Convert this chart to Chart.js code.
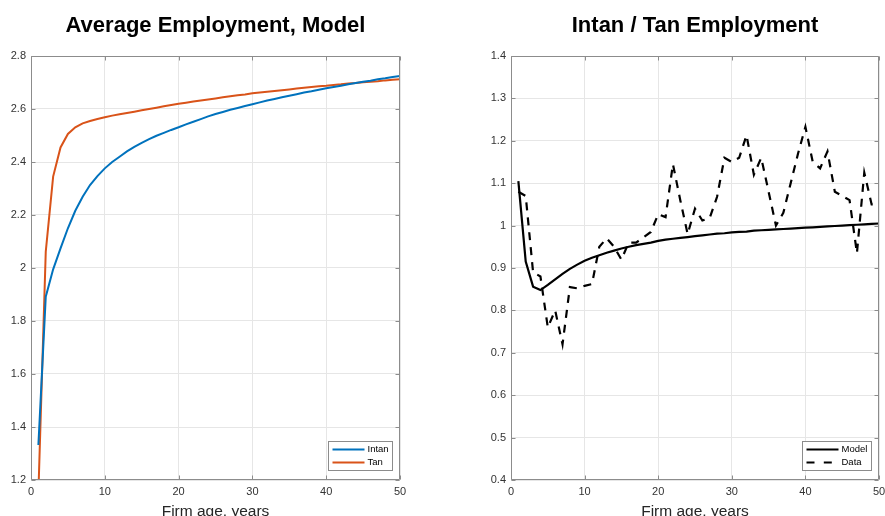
<!DOCTYPE html>
<html>
<head>
<meta charset="utf-8">
<script src="https://cdn.jsdelivr.net/npm/chart.js@4/dist/chart.umd.min.js"></script>
<style>
  html, body { margin: 0; padding: 0; background: #fff; overflow: hidden; width: 885px; height: 516px; }
  canvas { position: absolute; top: 0; }
  #left { left: 0; width: 442px; height: 516px; }
  #right { left: 442px; width: 460px; height: 516px; }
</style>
</head>
<body>
<canvas id="left" width="442" height="516"></canvas>
<canvas id="right" width="460" height="516"></canvas>
<script>
// Firm age in years
const ages = [1,2,3,4,5,6,7,8,9,10,11,12,13,14,15,16,17,18,19,20,21,22,23,24,25,
              26,27,28,29,30,31,32,33,34,35,36,37,38,39,40,41,42,43,44,45,46,47,48,49,50];

// Average employment by age, model
const intanEmp = [1.332,1.892,1.995,2.074,2.150,2.216,2.269,2.313,2.347,2.376,
                  2.400,2.420,2.440,2.457,2.472,2.486,2.499,2.510,2.521,2.531,
                  2.542,2.552,2.562,2.572,2.581,2.589,2.597,2.604,2.611,2.618,
                  2.625,2.632,2.638,2.644,2.650,2.656,2.662,2.667,2.673,2.678,
                  2.683,2.688,2.693,2.698,2.703,2.707,2.712,2.716,2.721,2.725];
const tanEmp   = [1.150,2.062,2.345,2.455,2.506,2.531,2.546,2.555,2.562,2.569,
                  2.575,2.580,2.585,2.590,2.595,2.600,2.605,2.610,2.615,2.620,
                  2.624,2.628,2.632,2.636,2.640,2.644,2.648,2.652,2.655,2.659,
                  2.662,2.665,2.668,2.671,2.674,2.677,2.680,2.683,2.686,2.688,
                  2.691,2.693,2.696,2.698,2.701,2.703,2.705,2.708,2.710,2.712];

// Intangible / tangible employment ratio
const ratioModel = [1.105,0.915,0.856,0.848,0.860,0.873,0.886,0.898,0.908,0.917,
                    0.924,0.930,0.936,0.941,0.946,0.950,0.954,0.957,0.960,0.964,
                    0.967,0.969,0.971,0.973,0.975,0.977,0.979,0.981,0.982,0.984,
                    0.985,0.986,0.988,0.989,0.990,0.991,0.992,0.993,0.994,0.995,
                    0.996,0.997,0.998,0.999,1.000,1.001,1.002,1.003,1.004,1.005];
const ratioData  = [1.080,1.070,0.890,0.880,0.760,0.800,0.720,0.855,0.852,0.858,
                    0.862,0.950,0.970,0.950,0.920,0.960,0.960,0.972,0.985,1.027,
                    1.020,1.145,1.060,0.980,1.040,1.012,1.018,1.068,1.160,1.150,
                    1.160,1.213,1.120,1.160,1.080,1.000,1.030,1.100,1.170,1.233,
                    1.150,1.135,1.175,1.080,1.070,1.060,0.935,1.125,1.050,1.050];

// Tick values
const ageTicks   = [0,10,20,30,40,50];
const empTicks   = [1.2,1.4,1.6,1.8,2,2.2,2.4,2.6,2.8];
const ratioTicks = [0.4,0.5,0.6,0.7,0.8,0.9,1,1.1,1.2,1.3,1.4];

const FONT = "'Liberation Sans', Arial, Helvetica, sans-serif";
const FRAME = '#8c8c8c';
const GRID = '#e6e6e6';
const TICKTXT = '#333333';

const pts = (vals) => ages.map((a, i) => ({ x: a, y: vals[i] }));

// Axes box, inward tick marks and in-plot legend
const boxPlugin = {
  id: 'boxAndLegend',
  afterDatasetsDraw(chart) {
    const { ctx, chartArea: a, scales } = chart;
    const L = Math.round(a.left) + 0.5, R = Math.round(a.right) - 0.5;
    const T = Math.round(a.top) + 0.5, B = Math.round(a.bottom) - 0.5;
    ctx.save();
    ctx.strokeStyle = FRAME;
    ctx.lineWidth = 1;
    ctx.beginPath();
    ctx.rect(L, T, R - L, B - T);
    const tl = 4;
    scales.x.ticks.forEach(t => {
      const px = Math.round(scales.x.getPixelForValue(t.value)) + 0.5;
      ctx.moveTo(px, B); ctx.lineTo(px, B - tl);
      ctx.moveTo(px, T); ctx.lineTo(px, T + tl);
    });
    scales.y.ticks.forEach(t => {
      const py = Math.round(scales.y.getPixelForValue(t.value)) + 0.5;
      ctx.moveTo(L, py); ctx.lineTo(L + tl, py);
      ctx.moveTo(R, py); ctx.lineTo(R - tl, py);
    });
    ctx.stroke();

    // legend
    const ds = chart.data.datasets;
    ctx.font = '9.5px ' + FONT;
    const textW = Math.max(...ds.map(d => ctx.measureText(d.label).width));
    const sample = 32, padL = 4, gap = 3, padR = 4, rowH = 13;
    const w = Math.round(padL + sample + gap + textW + padR);
    const h = 29;
    const bx = Math.round(a.right) - 8 - w + 0.5;
    const by = Math.round(a.bottom) - 10 - h + 0.5;
    ctx.fillStyle = '#ffffff';
    ctx.fillRect(bx, by, w, h);
    ctx.strokeStyle = FRAME;
    ctx.strokeRect(bx, by, w, h);
    ds.forEach((d, i) => {
      const cy = by + h / 2 + (i - (ds.length - 1) / 2) * rowH;
      ctx.strokeStyle = d.borderColor;
      ctx.lineWidth = d.borderWidth;
      ctx.setLineDash(d.borderDash ? [8, 9.3] : []);
      ctx.beginPath();
      ctx.moveTo(bx + padL, cy);
      ctx.lineTo(bx + padL + sample, cy);
      ctx.stroke();
      ctx.setLineDash([]);
      ctx.fillStyle = '#000';
      ctx.textBaseline = 'middle';
      ctx.textAlign = 'left';
      ctx.fillText(d.label, bx + padL + sample + gap, cy);
    });
    ctx.restore();
  }
};

function makeChart(id, cfg) {
  return new Chart(document.getElementById(id), {
    type: 'line',
    data: { datasets: cfg.datasets },
    options: {
      responsive: false,
      animation: false,
      layout: { padding: { left: 0, right: cfg.padRight, top: 0, bottom: 0 } },
      elements: { point: { radius: 0 }, line: { tension: 0 } },
      plugins: {
        legend: { display: false },
        tooltip: { enabled: false },
        title: {
          display: true,
          text: cfg.title,
          fullSize: false,
          color: '#000',
          font: { family: FONT, size: 22, weight: 'bold', lineHeight: 1.2 },
          padding: { top: 12.5, bottom: 17.1 }
        }
      },
      scales: {
        x: {
          type: 'linear',
          min: 0, max: 50,
          afterBuildTicks: s => { s.ticks = ageTicks.map(v => ({ value: v })); },
          afterFit: s => { s.height = 36; },
          grid: { color: GRID, drawTicks: false },
          border: { display: false },
          ticks: { color: TICKTXT, font: { family: FONT, size: 11 }, padding: 5, maxRotation: 0, autoSkip: false,
                   callback: v => String(v) },
          title: { display: true, text: 'Firm age, years', color: '#262626',
                   font: { family: FONT, size: 15.5, lineHeight: 1.2 }, padding: { top: 0, bottom: -5 } }
        },
        y: {
          type: 'linear',
          min: cfg.yMin, max: cfg.yMax,
          afterBuildTicks: s => { s.ticks = cfg.yTicks.map(v => ({ value: v })); },
          afterFit: s => { s.width = cfg.yWidth; },
          grid: { color: GRID, drawTicks: false },
          border: { display: false },
          ticks: { color: TICKTXT, font: { family: FONT, size: 11 }, padding: 5, autoSkip: false,
                   callback: v => String(Number(v.toFixed(2))) }
        }
      }
    },
    plugins: [boxPlugin]
  });
}

makeChart('left', {
  title: 'Average Employment, Model',
  padRight: 42, yWidth: 31, yMin: 1.2, yMax: 2.8, yTicks: empTicks,
  datasets: [
    { label: 'Intan', data: pts(intanEmp), borderColor: '#0072BD', borderWidth: 2, fill: false },
    { label: 'Tan',   data: pts(tanEmp),   borderColor: '#D95319', borderWidth: 2, fill: false }
  ]
});

makeChart('right', {
  title: 'Intan / Tan Employment',
  padRight: 23, yWidth: 69, yMin: 0.4, yMax: 1.4, yTicks: ratioTicks,
  datasets: [
    { label: 'Model', data: pts(ratioModel), borderColor: '#000000', borderWidth: 2.2, fill: false },
    { label: 'Data',  data: pts(ratioData),  borderColor: '#000000', borderWidth: 2.2, borderDash: [8, 7], fill: false }
  ]
});
</script>
</body>
</html>
